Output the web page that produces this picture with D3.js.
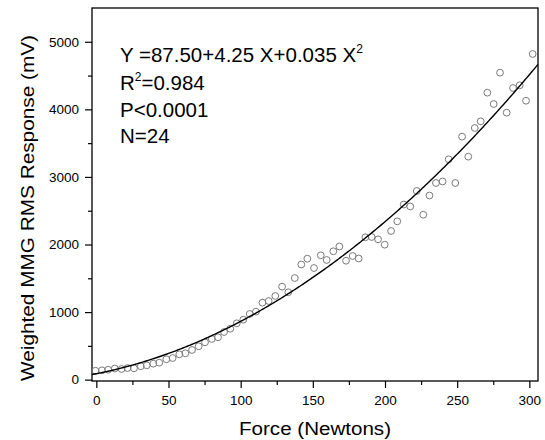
<!DOCTYPE html>
<html>
<head>
<meta charset="utf-8">
<script src="https://cdn.jsdelivr.net/npm/d3@7"></script>
<style>
    body { margin: 0; background: #fff; }
    text { font-family: Arial, "Liberation Sans", sans-serif; fill: #000; }
</style>
</head>
<body>
<svg id="chart" width="545" height="440"></svg>
<script>

// ##################################################
// #                                                #
// #  Data                                          #
// #                                                #
// ##################################################

// force (N) and weighted MMG RMS response (mV)
const forceN = [
    -0.6, 3.9, 8.2, 12.8, 17.5, 21.6, 26.1, 30.8, 34.9, 39.5,
    43.6, 48.5, 52.9, 57.5, 61.7, 66.3, 70.9, 75.3, 80.0, 84.3,
    88.5, 92.8, 97.3, 101.8, 106.3, 110.6, 115.1, 119.4, 124.0, 128.7,
    133.0, 137.5, 142.0, 146.2, 150.8, 155.5, 159.6, 164.2, 168.4, 173.0,
    177.6, 181.8, 186.4, 190.8, 195.2, 199.8, 204.2, 208.5, 213.0, 217.5,
    222.0, 226.5, 230.8, 235.3, 239.9, 244.1, 248.7, 253.4, 257.7, 262.2,
    266.3, 270.9, 275.3, 279.7, 284.3, 288.7, 293.3, 297.7, 302.3
];
const mmgRms = [
    132, 138, 147, 165, 158, 172, 168, 198, 212, 236,
    251, 301, 320, 375, 390, 439, 494, 553, 602, 627,
    705, 754, 834, 887, 972, 1006, 1139, 1164, 1238, 1376,
    1293, 1504, 1704, 1790, 1652, 1840, 1771, 1900, 1971, 1760,
    1830, 1793, 2107, 2111, 2077, 1997, 2200, 2343, 2592, 2563,
    2792, 2441, 2725, 2910, 2933, 3261, 2910, 3596, 3300, 3724,
    3823, 4247, 4079, 4543, 3951, 4316, 4356, 4128, 4820
];

// Y = a + b X + c X^2
const fitCoef = [87.50, 4.25, 0.035];

const xTicks = [0, 50, 100, 150, 200, 250, 300];
const xMinorTicks = [25, 75, 125, 175, 225, 275];
const yTicks = [0, 1000, 2000, 3000, 4000, 5000];
const yMinorTicks = [500, 1500, 2500, 3500, 4500];

const xTitle = 'Force (Newtons)';
const yTitle = 'Weighted MMG RMS Response (mV)';

// ##################################################
// #                                                #
// #  Layout                                        #
// #                                                #
// ##################################################

const plot = { left: 92, right: 538, top: 8, bottom: 381 };

const x = d3.scaleLinear()
    .domain([-3, 306])
    .range([plot.left, plot.right]);

const y = d3.scaleLinear()
    .domain([-20, 5500])
    .range([plot.bottom, plot.top]);

const svg = d3.select('#chart');

// ##################################################
// #                                                #
// #  Axes                                          #
// #                                                #
// ##################################################

function drawAxis(axis, transform) {
    let g = svg.append('g')
        .attr('transform', transform)
        .call(axis);
    g.select('.domain').remove();
    g.selectAll('.tick line')
        .attr('stroke', '#000')
        .attr('stroke-width', 1.2);
    g.selectAll('.tick text')
        .style('font-size', '13.5px')
        .attr('fill', '#000');
    return g;
}

drawAxis(d3.axisBottom(x).tickValues(xTicks).tickSize(7).tickPadding(7).tickFormat(d3.format('d')),
    `translate(0,${plot.bottom})`);
drawAxis(d3.axisBottom(x).tickValues(xMinorTicks).tickSize(4).tickFormat(''),
    `translate(0,${plot.bottom})`);
drawAxis(d3.axisLeft(y).tickValues(yTicks).tickSize(7).tickPadding(6).tickFormat(d3.format('d')),
    `translate(${plot.left},0)`);
drawAxis(d3.axisLeft(y).tickValues(yMinorTicks).tickSize(4).tickFormat(''),
    `translate(${plot.left},0)`);

// frame
svg.append('rect')
    .attr('x', plot.left)
    .attr('y', plot.top)
    .attr('width', plot.right - plot.left)
    .attr('height', plot.bottom - plot.top)
    .attr('fill', 'none')
    .attr('stroke', '#000')
    .attr('stroke-width', 1.3);

// axis titles
svg.append('text')
    .attr('x', (plot.left + plot.right) / 2)
    .attr('y', 434.5)
    .attr('text-anchor', 'middle')
    .style('font-size', '18px')
    .attr('textLength', 152)
    .attr('lengthAdjust', 'spacingAndGlyphs')
    .text(xTitle);

svg.append('text')
    .attr('transform', 'translate(33.5,208) rotate(-90)')
    .attr('text-anchor', 'middle')
    .style('font-size', '18px')
    .attr('textLength', 346)
    .attr('lengthAdjust', 'spacingAndGlyphs')
    .text(yTitle);

// ##################################################
// #                                                #
// #  Marks                                         #
// #                                                #
// ##################################################

const points = forceN.map((f, i) => ({ force: f, mmg: mmgRms[i] }));

svg.append('g')
    .attr('class', 'points')
    .selectAll('circle')
    .data(points)
    .enter()
    .append('circle')
    .attr('cx', d => x(d.force))
    .attr('cy', d => y(d.mmg))
    .attr('r', 3.4)
    .attr('fill', 'none')
    .attr('stroke', '#7a7a7a')
    .attr('stroke-width', 1);

const fit = f => fitCoef[0] + fitCoef[1] * f + fitCoef[2] * f * f;

svg.append('path')
    .datum(d3.range(x.domain()[0], x.domain()[1] + 0.5, 1))
    .attr('fill', 'none')
    .attr('stroke', '#000')
    .attr('stroke-width', 1.4)
    .attr('d', d3.line()
        .x(d => x(d))
        .y(d => y(fit(d))));

// ##################################################
// #                                                #
// #  Annotation                                    #
// #                                                #
// ##################################################

const note = svg.append('g')
    .attr('class', 'note')
    .style('font-size', '20.5px');

let eq = note.append('text').attr('x', 120).attr('y', 62);
eq.append('tspan').text(`Y =${fitCoef[0].toFixed(2)}+${fitCoef[1].toFixed(2)} X+${fitCoef[2]} X`);
eq.append('tspan').attr('dy', -9).style('font-size', '12px').text('2');

let r2 = note.append('text').attr('x', 120).attr('y', 89.5);
r2.append('tspan').text('R');
r2.append('tspan').attr('dy', -9).style('font-size', '12px').text('2');
r2.append('tspan').attr('dy', 9).text('=0.984');

note.append('text').attr('x', 120).attr('y', 116.5).text('P<0.0001');
note.append('text').attr('x', 120).attr('y', 143).text('N=24');

</script>
</body>
</html>
